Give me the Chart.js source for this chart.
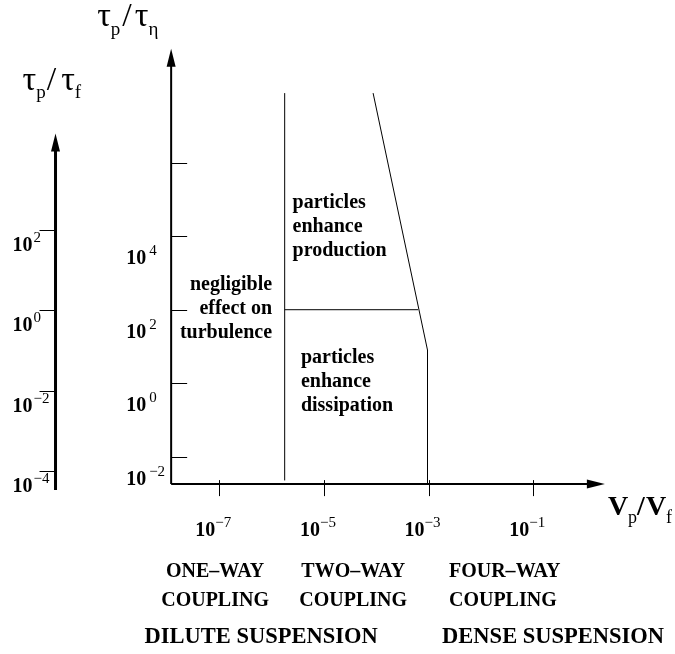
<!DOCTYPE html>
<html>
<head>
<meta charset="utf-8">
<script src="https://cdn.jsdelivr.net/npm/chart.js@4.4.1/dist/chart.umd.min.js"></script>
<style>
  html, body { margin: 0; padding: 0; background: #fff; }
  #wrap { width: 675px; height: 654px; }
</style>
</head>
<body>
<div id="wrap"><canvas id="map" width="675" height="654"></canvas></div>
<script>
// everything is in log10 units: x = log10(Vp/Vf), y = log10(tau_p/tau_eta)
const xTickExp = [-7, -5, -3, -1];
const yTickExp = [6, 4, 2, 0, -2];
const yLabelExp = [4, 2, 0, -2];
const leftTickExp = [2, 0, -2, -4];

// regime boundaries
const oneWayLineX = [-5.75, -5.75];
const oneWayLineY = [-2.65, 7.9];
const splitLineX = [-5.75, -3.2];
const splitLineY = [2, 2];
const fourWayLineX = [-4.06, -3.02, -3.02];
const fourWayLineY = [7.9, 0.9, -2.75];

const negligibleText = ['negligible', 'effect on', 'turbulence'];
const productionText = ['particles', 'enhance', 'production'];
const dissipationText = ['particles', 'enhance', 'dissipation'];
const couplingNames = [['ONE–WAY', 'COUPLING'], ['TWO–WAY', 'COUPLING'], ['FOUR–WAY', 'COUPLING']];
const suspensionNames = ['DILUTE SUSPENSION', 'DENSE SUSPENSION'];

// axis extents (same log units)
const origin = { x: -7.92, y: -2.75 };
const xAxisEnd = 0.37;
const yAxisEnd = 9.11;
const leftAxisX = -10.13;
const leftAxisFrom = -4.47;
const leftAxisTo = 4.41;

const serif = '"Liberation Serif", "Times New Roman", serif';

const toPoints = (xs, ys) => xs.map((x, i) => ({ x, y: ys[i] }));

function supText(exp) {
  return exp < 0 ? '−' + (-exp) : String(exp);
}

function drawPower(ctx, left, baseline, exp, gap) {
  ctx.textAlign = 'left';
  ctx.textBaseline = 'alphabetic';
  ctx.font = `bold 20px ${serif}`;
  ctx.fillText('10', left, baseline);
  const w = ctx.measureText('10').width;
  ctx.font = `15px ${serif}`;
  ctx.fillText(supText(exp), left + w + gap, baseline - 9);
}

function drawArrowHead(ctx, x, y, dir) {
  // dir: 'up' or 'right'
  ctx.beginPath();
  if (dir === 'up') {
    ctx.moveTo(x, y);
    ctx.lineTo(x - 4.5, y + 18);
    ctx.lineTo(x + 4.5, y + 18);
  } else {
    ctx.moveTo(x, y);
    ctx.lineTo(x - 18, y - 4.5);
    ctx.lineTo(x - 18, y + 4.5);
  }
  ctx.closePath();
  ctx.fill();
}

// pieces: [text, font, dy, gapBefore]
function drawRun(ctx, left, baseline, pieces) {
  let x = left;
  ctx.textAlign = 'left';
  ctx.textBaseline = 'alphabetic';
  pieces.forEach(([text, font, dy, gap]) => {
    x += gap || 0;
    ctx.font = font;
    ctx.fillText(text, x, baseline + dy);
    x += ctx.measureText(text).width;
  });
}

function drawBlock(ctx, lines, x, baseline, align, step, font) {
  ctx.font = font;
  ctx.textAlign = align;
  ctx.textBaseline = 'alphabetic';
  lines.forEach((line, i) => ctx.fillText(line, x, baseline + i * step));
}

const regimeMapPlugin = {
  id: 'regimeMap',
  afterDatasetsDraw(chart) {
    const { ctx } = chart;
    const xs = chart.scales.x;
    const ys = chart.scales.y;
    const ys2 = chart.scales.y2;
    const ox = xs.getPixelForValue(origin.x);
    const oy = ys.getPixelForValue(origin.y);
    const xEnd = xs.getPixelForValue(xAxisEnd);
    const yEnd = ys.getPixelForValue(yAxisEnd);

    ctx.save();
    ctx.fillStyle = '#000';
    ctx.strokeStyle = '#000';

    // main axes
    ctx.lineWidth = 2;
    ctx.beginPath();
    ctx.moveTo(ox, oy);
    ctx.lineTo(xEnd - 10, oy);
    ctx.moveTo(ox, oy);
    ctx.lineTo(ox, yEnd + 10);
    ctx.stroke();
    drawArrowHead(ctx, xEnd, oy, 'right');
    drawArrowHead(ctx, ox, yEnd, 'up');

    // ticks
    ctx.lineWidth = 1;
    ctx.beginPath();
    xTickExp.forEach((e) => {
      const px = Math.round(xs.getPixelForValue(e)) + 0.5;
      ctx.moveTo(px, oy - 4);
      ctx.lineTo(px, oy + 12);
    });
    yTickExp.forEach((e) => {
      const py = Math.round(ys.getPixelForValue(e)) + 0.5;
      ctx.moveTo(ox, py);
      ctx.lineTo(ox + 16, py);
    });
    ctx.stroke();

    // tick labels
    ctx.font = `bold 20px ${serif}`;
    const w10 = ctx.measureText('10').width;
    xTickExp.forEach((e) => {
      const px = xs.getPixelForValue(e);
      drawPower(ctx, px - 4 - w10, oy + 52, e, 0);
    });
    yLabelExp.forEach((e) => {
      const py = ys.getPixelForValue(e);
      drawPower(ctx, ox - 45, py + 28, e, 3);
    });

    // left axis tau_p / tau_f
    const lx = xs.getPixelForValue(leftAxisX);
    const lTop = ys2.getPixelForValue(leftAxisTo);
    const lBot = ys2.getPixelForValue(leftAxisFrom);
    ctx.lineWidth = 3;
    ctx.beginPath();
    ctx.moveTo(lx, lBot);
    ctx.lineTo(lx, lTop + 10);
    ctx.stroke();
    drawArrowHead(ctx, lx, lTop, 'up');
    ctx.lineWidth = 1;
    ctx.beginPath();
    leftTickExp.forEach((e) => {
      const py = Math.round(ys2.getPixelForValue(e)) + 0.5;
      ctx.moveTo(lx - 16, py);
      ctx.lineTo(lx - 1, py);
    });
    ctx.stroke();
    leftTickExp.forEach((e) => {
      const py = ys2.getPixelForValue(e);
      drawPower(ctx, lx - 43, py + 21, e, 1);
    });

    // axis titles
    const tauFont = `34px ${serif}`;
    const subFont = `19px ${serif}`;
    drawRun(ctx, ox - 74, yEnd - 23, [
      ['τ', tauFont, 0, 0],
      ['p', subFont, 9, 0],
      ['/', tauFont, 0, 2],
      ['τ', tauFont, 0, 3],
      ['η', subFont, 9, 0],
    ]);
    drawRun(ctx, lx - 33, lTop - 43, [
      ['τ', tauFont, 0, 0],
      ['p', subFont, 8, 0],
      ['/', tauFont, 0, 1],
      ['τ', tauFont, 0, 5],
      ['f', subFont, 8, 0],
    ]);
    const vFont = `bold 28px ${serif}`;
    drawRun(ctx, xEnd + 3, oy + 31, [
      ['V', vFont, 0, 0],
      ['p', `18px ${serif}`, 8, 0],
      ['/', vFont, 0, 0],
      ['V', vFont, 0, 1],
      ['f', `18px ${serif}`, 8, 0],
    ]);

    // region labels
    const regionFont = `bold 20px ${serif}`;
    drawBlock(ctx, negligibleText, xs.getPixelForValue(-5.99), ys.getPixelForValue(2.55), 'right', 24, regionFont);
    drawBlock(ctx, productionText, xs.getPixelForValue(-5.6), ys.getPixelForValue(4.78), 'left', 24, regionFont);
    drawBlock(ctx, dissipationText, xs.getPixelForValue(-5.44), ys.getPixelForValue(0.56), 'left', 24, regionFont);

    // coupling / suspension labels under the axis
    const capFont = `bold 20px ${serif}`;
    drawBlock(ctx, couplingNames[0], xs.getPixelForValue(-7.08), oy + 93, 'center', 29, capFont);
    drawBlock(ctx, couplingNames[1], xs.getPixelForValue(-4.44), oy + 93, 'center', 29, capFont);
    drawBlock(ctx, couplingNames[2], xs.getPixelForValue(-2.61), oy + 93, 'left', 29, capFont);
    const susFont = `bold 22.5px ${serif}`;
    drawBlock(ctx, [suspensionNames[0]], xs.getPixelForValue(-6.2), oy + 159, 'center', 0, susFont);
    drawBlock(ctx, [suspensionNames[1]], xs.getPixelForValue(-0.62), oy + 159, 'center', 0, susFont);

    ctx.restore();
  },
};

const lineStyle = {
  showLine: true,
  borderColor: '#000',
  borderWidth: 1,
  pointRadius: 0,
  fill: false,
  tension: 0,
};

new Chart(document.getElementById('map'), {
  type: 'scatter',
  data: {
    datasets: [
      { label: 'one-way / two-way', data: toPoints(oneWayLineX, oneWayLineY), ...lineStyle },
      { label: 'production / dissipation', data: toPoints(splitLineX, splitLineY), ...lineStyle },
      { label: 'two-way / four-way', data: toPoints(fourWayLineX, fourWayLineY), ...lineStyle },
    ],
  },
  options: {
    responsive: false,
    devicePixelRatio: 1,
    animation: false,
    layout: { padding: { left: 10, right: 11, top: 16, bottom: 124 } },
    plugins: { legend: { display: false }, tooltip: { enabled: false } },
    scales: {
      x: { type: 'linear', min: -11, max: 1.5, display: false },
      y: { type: 'linear', min: -4, max: 10, display: false },
      y2: { type: 'linear', min: -5.468, max: 7.334, display: false },
    },
  },
  plugins: [regimeMapPlugin],
});
</script>
</body>
</html>
